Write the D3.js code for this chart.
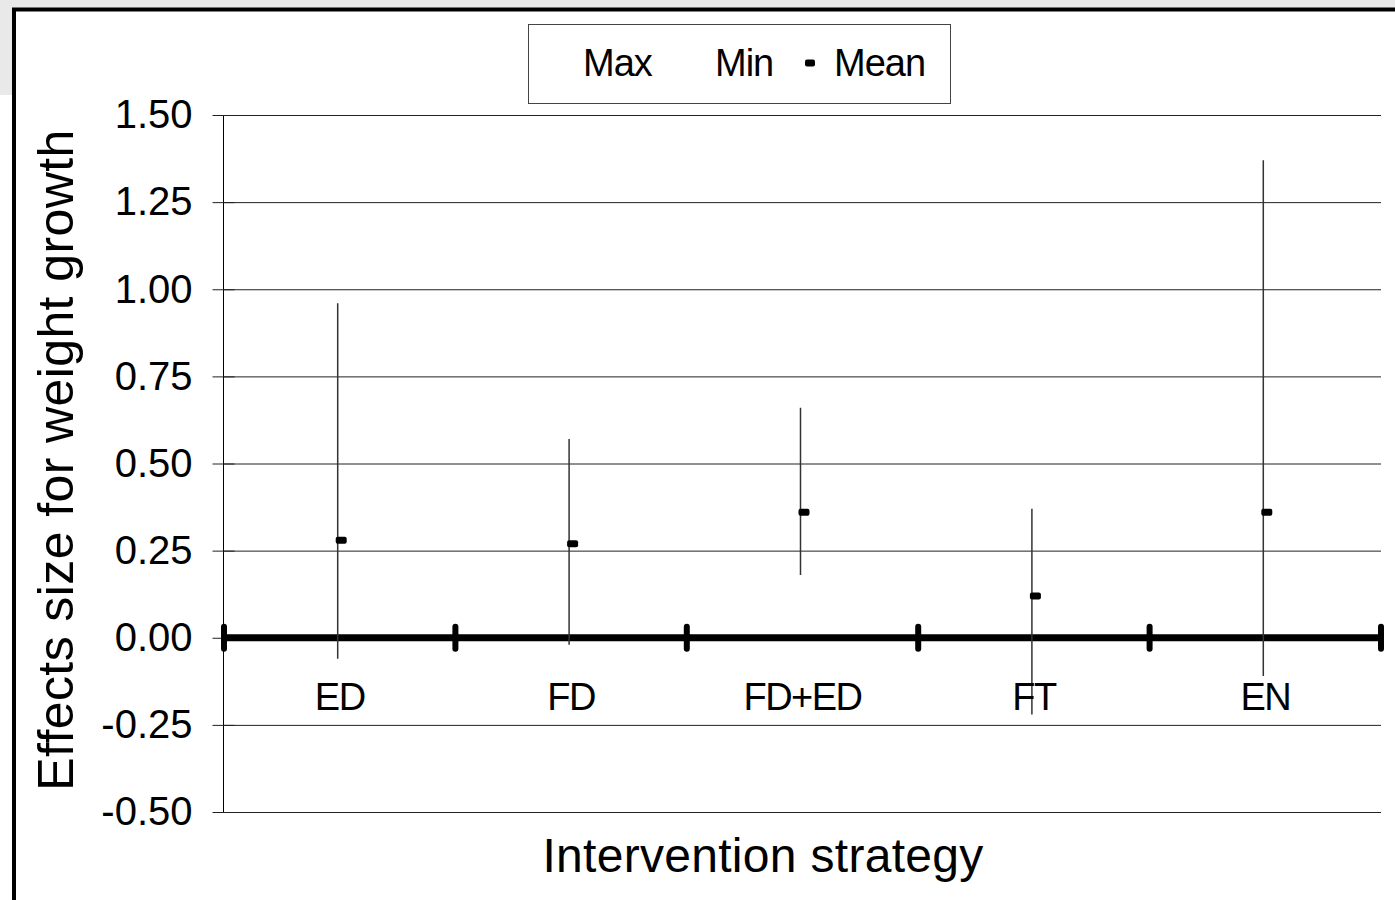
<!DOCTYPE html>
<html>
<head>
<meta charset="utf-8">
<script src="https://cdn.jsdelivr.net/npm/d3@7"></script>
<style>
  body { margin: 0; background: #fff; }
  svg { display: block; font-family: "Liberation Sans", Arial, sans-serif; }
</style>
</head>
<body>
<svg id="chart"></svg>
<script>
// data
const strategies = ["ED", "FD", "FD+ED", "FT", "EN"]
const maxValues  = [0.96, 0.57, 0.66, 0.37, 1.37]
const minValues  = [-0.06, -0.02, 0.18, -0.22, -0.11]
const meanValues = [0.28, 0.27, 0.36, 0.12, 0.36]
const yTicks = [-0.50, -0.25, 0.00, 0.25, 0.50, 0.75, 1.00, 1.25, 1.50]
const legendLabels = ["Max", "Min", "Mean"]

const width = 1395
const height = 900

const svg = d3.select("#chart")
              .attr("width", width)
              .attr("height", height)

// grey page area round the chart frame
svg.append("rect").attr("x", 0).attr("y", 0).attr("width", width).attr("height", 8).attr("fill", "#e9e9e9")
svg.append("rect").attr("x", 0).attr("y", 0).attr("width", 12).attr("height", 95).attr("fill", "#e9e9e9")

// chart frame
svg.append("path")
   .attr("d", "M14,900 L14,9.5 L1395,9.5")
   .attr("fill", "none")
   .attr("stroke", "#000")
   .attr("stroke-width", 4)

const x = d3.scaleBand()
            .domain(strategies)
            .range([224, 1381])

const y = d3.scaleLinear()
            .domain([-0.5, 1.5])
            .range([812, 115])

// gridlines
const grid = svg.append("g")
                .attr("transform", "translate(224,0)")
                .call(d3.axisLeft(y).tickValues(yTicks).tickSize(-(1381 - 224)).tickFormat(""))
grid.select(".domain").remove()
grid.selectAll("line").attr("stroke", "#222").attr("stroke-width", 1)

// y axis, tick marks crossing the axis
const fmt = d => d3.format(".2f")(d).replace("\u2212", "-")
const yAxis = svg.append("g")
                 .attr("transform", "translate(223.5,0)")
                 .call(d3.axisLeft(y).tickValues(yTicks).tickFormat(fmt).tickSize(11).tickPadding(20))
yAxis.select(".domain").attr("stroke", "#000").attr("d", "M0," + y(1.5) + "V" + y(-0.5))
yAxis.selectAll(".tick line").attr("x1", -11).attr("x2", 11).attr("stroke", "#222")
yAxis.selectAll(".tick text")
     .attr("font-size", 40)
     .attr("fill", "#000")
     .attr("font-family", "Liberation Sans, Arial, sans-serif")

// thick x axis at zero
const y0 = y(0)
svg.append("line")
   .attr("x1", 224).attr("x2", 1381)
   .attr("y1", y0).attr("y2", y0)
   .attr("stroke", "#000")
   .attr("stroke-width", 7)

const bounds = strategies.map(d => x(d)).concat([x.range()[1]])
svg.selectAll(".xTick")
   .data(bounds)
   .enter()
   .append("line")
   .attr("class", "xTick")
   .attr("x1", d => d).attr("x2", d => d)
   .attr("y1", y0 - 11).attr("y2", y0 + 11)
   .attr("stroke", "#000")
   .attr("stroke-width", 6)
   .attr("stroke-linecap", "round")

// min-max lines
const cx = d => x(d) + x.bandwidth() / 2 - 2
svg.selectAll(".range")
   .data(strategies)
   .enter()
   .append("line")
   .attr("class", "range")
   .attr("x1", cx).attr("x2", cx)
   .attr("y1", (d, i) => y(maxValues[i]))
   .attr("y2", (d, i) => y(minValues[i]))
   .attr("stroke", "#333")
   .attr("stroke-width", 1.5)

// mean markers
svg.selectAll(".mean")
   .data(strategies)
   .enter()
   .append("rect")
   .attr("class", "mean")
   .attr("x", d => cx(d) - 2)
   .attr("y", (d, i) => y(meanValues[i]) - 3.5)
   .attr("width", 11)
   .attr("height", 7)
   .attr("rx", 2)
   .attr("fill", "#000")

// category labels
svg.selectAll(".catLabel")
   .data(strategies)
   .enter()
   .append("text")
   .attr("class", "catLabel")
   .attr("x", d => x(d) + x.bandwidth() / 2)
   .attr("y", 710)
   .attr("text-anchor", "middle")
   .attr("font-size", 38)
   .attr("letter-spacing", -1.5)
   .text(d => d)

// axis titles
svg.append("text")
   .attr("x", 763)
   .attr("y", 872)
   .attr("text-anchor", "middle")
   .attr("font-size", 48)
   .attr("letter-spacing", 0.3)
   .text("Intervention strategy")

svg.append("text")
   .attr("transform", "translate(73,460) rotate(-90)")
   .attr("text-anchor", "middle")
   .attr("font-size", 50)
   .attr("letter-spacing", 0.4)
   .text("Effects size for weight growth")

// legend
svg.append("rect")
   .attr("x", 528.5).attr("y", 24.5)
   .attr("width", 422).attr("height", 79)
   .attr("fill", "#fff")
   .attr("stroke", "#444")
   .attr("stroke-width", 1)

const legendX = [583, 715, 834]
svg.selectAll(".legText")
   .data(legendLabels)
   .enter()
   .append("text")
   .attr("class", "legText")
   .attr("x", (d, i) => legendX[i])
   .attr("y", 76)
   .attr("font-size", 38)
   .attr("letter-spacing", -1)
   .text(d => d)

svg.append("rect")
   .attr("x", 805).attr("y", 59.5)
   .attr("width", 10).attr("height", 7)
   .attr("rx", 2)
   .attr("fill", "#000")
</script>
</body>
</html>
